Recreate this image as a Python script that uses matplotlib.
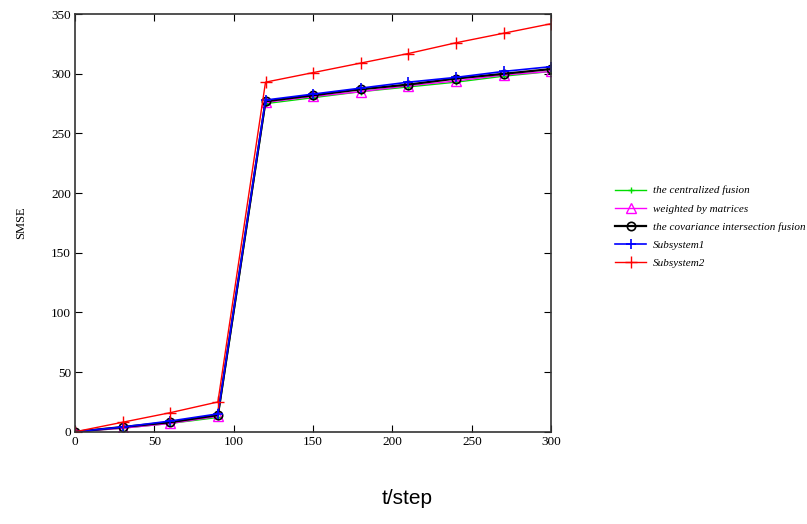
import matplotlib
matplotlib.use("Agg")
import matplotlib.pyplot as plt

# sample times (t/step)
t = [0, 30, 60, 90, 120, 150, 180, 210, 240, 270, 300]

centralized = [0, 3, 7, 12, 275, 280, 285, 289, 293, 298, 302]
weighted = [0, 3, 7, 13, 276, 281, 285, 290, 294, 299, 302]
covariance = [0, 4, 8, 14, 277, 282, 287, 291, 296, 300, 304]
subsystem1 = [0, 4, 9, 15, 278, 283, 288, 293, 297, 302, 306]
subsystem2 = [0, 8, 16, 25, 293, 301, 309, 317, 326, 334, 342]

labels = ["the centralized fusion", "weighted by matrices",
          "the covariance intersection fusion", "Subsystem1", "Subsystem2"]

serif = "Liberation Serif"

fig = plt.figure(figsize=(8.07, 5.24), dpi=100)
ax = fig.add_axes([0.093, 0.176, 0.590, 0.797])

ax.plot(t, centralized, color="#00dd00", lw=1, marker="+", ms=5, mew=1, label=labels[0])
ax.plot(t, weighted, color="#ff00ff", lw=1, marker="^", ms=7, mfc="none", mew=1, label=labels[1])
ax.plot(t, covariance, color="black", lw=1.6, marker="o", ms=6, mfc="none", mew=1.2, label=labels[2])
ax.plot(t, subsystem1, color="#0000ff", lw=1.2, marker="+", ms=7, mew=1.2, label=labels[3])
ax.plot(t, subsystem2, color="#ff0000", lw=1, marker="+", ms=9, mew=1, label=labels[4])

ax.set_xlim(0, 300)
ax.set_ylim(0, 350)
ax.set_xticks(range(0, 301, 50))
ax.set_yticks(range(0, 351, 50))
ax.tick_params(direction="in", top=True, right=True, length=5, labelsize=9.5, pad=3)
for lab in ax.get_xticklabels() + ax.get_yticklabels():
    lab.set_fontfamily(serif)
for sp in ax.spines.values():
    sp.set_linewidth(1.2)
    sp.set_color("#333333")

ax.set_ylabel("SMSE", fontsize=9, fontfamily=serif, labelpad=17)
fig.text(0.505, 0.03, "t/step", ha="center", va="bottom", fontsize=15, fontfamily="Liberation Sans")

leg = ax.legend(loc="upper left", bbox_to_anchor=(1.125, 0.60), frameon=False,
                prop={"family": serif, "style": "italic", "size": 8},
                handlelength=2.8, handletextpad=0.6, labelspacing=0.75, borderaxespad=0)

fig.savefig("out.png", dpi=100)
